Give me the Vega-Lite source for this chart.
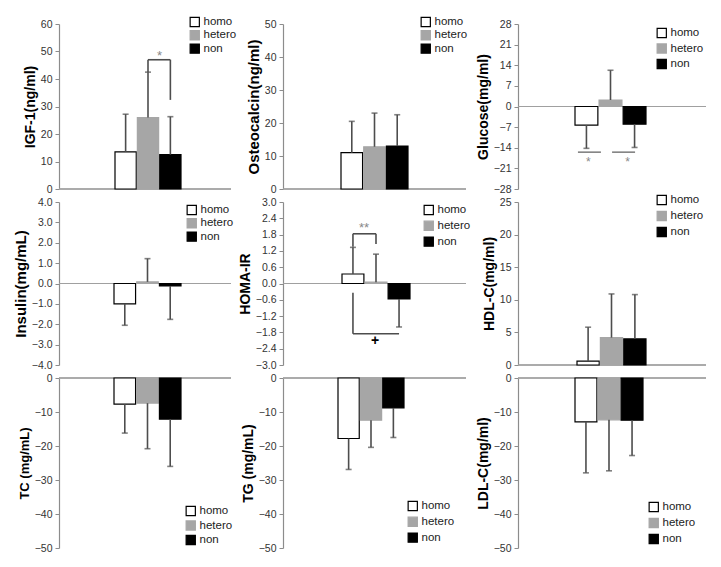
{
"$schema": "https://vega.github.io/schema/vega-lite/v6.json",
"background": "white",
"padding": {"left": 13, "top": 16, "right": 5, "bottom": 5},
"columns": 3,
"spacing": {"row": 13, "column": 52},
"bounds": "flush",
"align": "each",
"resolve": {"scale": {"y": "independent", "x": "independent", "fill": "independent", "stroke": "independent"}, "legend": {"fill": "independent", "stroke": "independent"}},
"config": {
  "font": "Liberation Sans",
  "view": {"stroke": null},
  "axisY": {"grid": false, "domainColor": "#8c8c8c", "domainWidth": 1.2, "tickColor": "#8c8c8c", "tickSize": 4, "labelFontSize": 10.5, "labelColor": "#333333", "labelPadding": 3, "labelFlush": false, "labelOverlap": false, "titleFontWeight": "bold", "titleColor": "#000000", "titlePadding": 3, "titleFontSize": 14},
  "legend": {"symbolType": "square", "symbolSize": 85, "labelFontSize": 11.5, "labelColor": "#222222", "padding": 0, "labelOffset": 3, "symbolStrokeWidth": 1.2, "clipHeight": 12}
},
"concat": [
{"width": 172, "height": 165,
 "data": {"values": [{"group": "homo", "mean": 13.5, "err": 27.2}, {"group": "hetero", "mean": 26, "err": 42.5}, {"group": "non", "mean": 12.5, "err": 26.3}]},
 "layer": [
  {"mark": {"type": "rule", "color": "#a0a0a0", "strokeWidth": 1.2}, "encoding": {"y": {"datum": 0, "type": "quantitative", "axis": {"title": "IGF-1(ng/ml)", "values": [0, 10, 20, 30, 40, 50, 60], "titleFontSize": 14}}}},
  {"mark": {"type": "bar", "strokeWidth": 1.2}, "encoding": {
    "x": {"field": "group", "type": "nominal", "sort": null, "scale": {"domain": ["homo", "hetero", "non"], "paddingInner": 0.05, "paddingOuter": 0, "range": [56, 122]}, "axis": null},
    "y": {"field": "mean", "type": "quantitative", "scale": {"domain": [0, 60], "nice": false}, "axis": {"title": "IGF-1(ng/ml)", "values": [0, 10, 20, 30, 40, 50, 60], "titleFontSize": 14}},
    "y2": {"datum": 0},
    "fill": {"field": "group", "type": "nominal", "sort": null, "scale": {"domain": ["homo", "hetero", "non"], "range": ["#ffffff", "#a6a6a6", "#000000"]}, "legend": {"title": null, "orient": "none", "legendX": 130, "legendY": -8, "rowPadding": 1.3}},
    "stroke": {"field": "group", "type": "nominal", "sort": null, "scale": {"domain": ["homo", "hetero", "non"], "range": ["#000000", "#a6a6a6", "#000000"]}, "legend": {"title": null, "orient": "none", "legendX": 130, "legendY": -8, "rowPadding": 1.3}}}},
  {"mark": {"type": "rule", "color": "#4d4d4d", "strokeWidth": 1.6}, "encoding": {"x": {"field": "group", "type": "nominal"}, "y": {"field": "mean", "type": "quantitative", "axis": {"title": "IGF-1(ng/ml)", "values": [0, 10, 20, 30, 40, 50, 60], "titleFontSize": 14}}, "y2": {"field": "err"}}},
  {"mark": {"type": "tick", "color": "#4d4d4d", "thickness": 1.6, "size": 6, "orient": "horizontal"}, "encoding": {"x": {"field": "group", "type": "nominal"}, "y": {"field": "err", "type": "quantitative", "axis": {"title": "IGF-1(ng/ml)", "values": [0, 10, 20, 30, 40, 50, 60], "titleFontSize": 14}}}},
  {"data": {"values": [{"a": "hetero", "b": "non", "y1": 47, "y2": 47}, {"a": "hetero", "b": "hetero", "y1": 47, "y2": 42.5}, {"a": "non", "b": "non", "y1": 47, "y2": 32.4}]},
   "mark": {"type": "rule", "color": "#4d4d4d", "strokeWidth": 1.6}, "encoding": {"x": {"field": "a", "type": "nominal"}, "x2": {"field": "b"}, "y": {"field": "y1", "type": "quantitative", "axis": {"title": "IGF-1(ng/ml)", "values": [0, 10, 20, 30, 40, 50, 60], "titleFontSize": 14}}, "y2": {"field": "y2"}}},
  {"data": {"values": [{"a": "hetero", "y1": 48.5, "t": "*"}]},
   "mark": {"type": "text", "color": "#888888", "fontSize": 13, "dx": 11.5}, "encoding": {"x": {"field": "a", "type": "nominal"}, "y": {"field": "y1", "type": "quantitative", "axis": {"title": "IGF-1(ng/ml)", "values": [0, 10, 20, 30, 40, 50, 60], "titleFontSize": 14}}, "text": {"field": "t"}}}
 ]},
{"width": 183, "height": 165,
 "data": {"values": [{"group": "homo", "mean": 11, "err": 20.5}, {"group": "hetero", "mean": 12.8, "err": 23}, {"group": "non", "mean": 13, "err": 22.5}]},
 "layer": [
  {"mark": {"type": "rule", "color": "#a0a0a0", "strokeWidth": 1.2}, "encoding": {"y": {"datum": 0, "type": "quantitative", "axis": {"title": "Osteocalcin(ng/ml)", "values": [0, 10, 20, 30, 40, 50], "titleFontSize": 15}}}},
  {"mark": {"type": "bar", "strokeWidth": 1.2}, "encoding": {
    "x": {"field": "group", "type": "nominal", "sort": null, "scale": {"domain": ["homo", "hetero", "non"], "paddingInner": 0.05, "paddingOuter": 0, "range": [58, 125]}, "axis": null},
    "y": {"field": "mean", "type": "quantitative", "scale": {"domain": [0, 50], "nice": false}, "axis": {"title": "Osteocalcin(ng/ml)", "values": [0, 10, 20, 30, 40, 50], "titleFontSize": 15}},
    "y2": {"datum": 0},
    "fill": {"field": "group", "type": "nominal", "sort": null, "scale": {"domain": ["homo", "hetero", "non"], "range": ["#ffffff", "#a6a6a6", "#000000"]}, "legend": {"title": null, "orient": "none", "legendX": 137, "legendY": -8, "rowPadding": 1.3}},
    "stroke": {"field": "group", "type": "nominal", "sort": null, "scale": {"domain": ["homo", "hetero", "non"], "range": ["#000000", "#a6a6a6", "#000000"]}, "legend": {"title": null, "orient": "none", "legendX": 137, "legendY": -8, "rowPadding": 1.3}}}},
  {"mark": {"type": "rule", "color": "#4d4d4d", "strokeWidth": 1.6}, "encoding": {"x": {"field": "group", "type": "nominal"}, "y": {"field": "mean", "type": "quantitative", "axis": {"title": "Osteocalcin(ng/ml)", "values": [0, 10, 20, 30, 40, 50], "titleFontSize": 15}}, "y2": {"field": "err"}}},
  {"mark": {"type": "tick", "color": "#4d4d4d", "thickness": 1.6, "size": 6, "orient": "horizontal"}, "encoding": {"x": {"field": "group", "type": "nominal"}, "y": {"field": "err", "type": "quantitative", "axis": {"title": "Osteocalcin(ng/ml)", "values": [0, 10, 20, 30, 40, 50], "titleFontSize": 15}}}}
 ]},
{"width": 188, "height": 165,
 "data": {"values": [{"group": "homo", "mean": -6.3, "err": -14.2}, {"group": "hetero", "mean": 2.2, "err": 12.3}, {"group": "non", "mean": -6, "err": -13.9}]},
 "layer": [
  {"mark": {"type": "rule", "color": "#a0a0a0", "strokeWidth": 1.2}, "encoding": {"y": {"datum": 0, "type": "quantitative", "axis": {"title": "Glucose(mg/ml)", "values": [-28, -21, -14, -7, 0, 7, 14, 21, 28], "titleFontSize": 14}}}},
  {"mark": {"type": "bar", "strokeWidth": 1.2}, "encoding": {
    "x": {"field": "group", "type": "nominal", "sort": null, "scale": {"domain": ["homo", "hetero", "non"], "paddingInner": 0.05, "paddingOuter": 0, "range": [57, 128]}, "axis": null},
    "y": {"field": "mean", "type": "quantitative", "scale": {"domain": [-28, 28], "nice": false}, "axis": {"title": "Glucose(mg/ml)", "values": [-28, -21, -14, -7, 0, 7, 14, 21, 28], "titleFontSize": 14}},
    "y2": {"datum": 0},
    "fill": {"field": "group", "type": "nominal", "sort": null, "scale": {"domain": ["homo", "hetero", "non"], "range": ["#ffffff", "#a6a6a6", "#000000"]}, "legend": {"title": null, "orient": "none", "legendX": 138, "legendY": 3, "rowPadding": 3.5}},
    "stroke": {"field": "group", "type": "nominal", "sort": null, "scale": {"domain": ["homo", "hetero", "non"], "range": ["#000000", "#a6a6a6", "#000000"]}, "legend": {"title": null, "orient": "none", "legendX": 138, "legendY": 3, "rowPadding": 3.5}}}},
  {"mark": {"type": "rule", "color": "#4d4d4d", "strokeWidth": 1.6}, "encoding": {"x": {"field": "group", "type": "nominal"}, "y": {"field": "mean", "type": "quantitative", "axis": {"title": "Glucose(mg/ml)", "values": [-28, -21, -14, -7, 0, 7, 14, 21, 28], "titleFontSize": 14}}, "y2": {"field": "err"}}},
  {"mark": {"type": "tick", "color": "#4d4d4d", "thickness": 1.6, "size": 6, "orient": "horizontal"}, "encoding": {"x": {"field": "group", "type": "nominal"}, "y": {"field": "err", "type": "quantitative", "axis": {"title": "Glucose(mg/ml)", "values": [-28, -21, -14, -7, 0, 7, 14, 21, 28], "titleFontSize": 14}}}},
  {"data": {"values": [{"a": "homo", "y1": -15.5}]},
   "mark": {"type": "tick", "color": "#4d4d4d", "thickness": 1.6, "size": 23, "orient": "horizontal", "xOffset": 3}, "encoding": {"x": {"field": "a", "type": "nominal"}, "y": {"field": "y1", "type": "quantitative", "axis": {"title": "Glucose(mg/ml)", "values": [-28, -21, -14, -7, 0, 7, 14, 21, 28], "titleFontSize": 14}}}},
  {"data": {"values": [{"a": "non", "y1": -15.5}]},
   "mark": {"type": "tick", "color": "#4d4d4d", "thickness": 1.6, "size": 23, "orient": "horizontal", "xOffset": -11}, "encoding": {"x": {"field": "a", "type": "nominal"}, "y": {"field": "y1", "type": "quantitative", "axis": {"title": "Glucose(mg/ml)", "values": [-28, -21, -14, -7, 0, 7, 14, 21, 28], "titleFontSize": 14}}}},
  {"data": {"values": [{"a": "homo", "y1": -19, "t": "*"}]},
   "mark": {"type": "text", "color": "#888888", "fontSize": 12, "dx": 2}, "encoding": {"x": {"field": "a", "type": "nominal"}, "y": {"field": "y1", "type": "quantitative", "axis": {"title": "Glucose(mg/ml)", "values": [-28, -21, -14, -7, 0, 7, 14, 21, 28], "titleFontSize": 14}}, "text": {"field": "t"}}},
  {"data": {"values": [{"a": "non", "y1": -19, "t": "*"}]},
   "mark": {"type": "text", "color": "#888888", "fontSize": 12, "dx": -7}, "encoding": {"x": {"field": "a", "type": "nominal"}, "y": {"field": "y1", "type": "quantitative", "axis": {"title": "Glucose(mg/ml)", "values": [-28, -21, -14, -7, 0, 7, 14, 21, 28], "titleFontSize": 14}}, "text": {"field": "t"}}}
 ]},
{"width": 172, "height": 163,
 "data": {"values": [{"group": "homo", "mean": -1.0, "err": -2.05}, {"group": "hetero", "mean": 0.08, "err": 1.22}, {"group": "non", "mean": -0.12, "err": -1.76}]},
 "layer": [
  {"mark": {"type": "rule", "color": "#a0a0a0", "strokeWidth": 1.2}, "encoding": {"y": {"datum": 0, "type": "quantitative", "axis": {"title": "Insulin(mg/mL)", "values": [-4, -3, -2, -1, 0, 1, 2, 3, 4], "format": ".1f", "titleFontSize": 15}}}},
  {"mark": {"type": "bar", "strokeWidth": 1.2}, "encoding": {
    "x": {"field": "group", "type": "nominal", "sort": null, "scale": {"domain": ["homo", "hetero", "non"], "paddingInner": 0.05, "paddingOuter": 0, "range": [55, 122]}, "axis": null},
    "y": {"field": "mean", "type": "quantitative", "scale": {"domain": [-4, 4], "nice": false}, "axis": {"title": "Insulin(mg/mL)", "values": [-4, -3, -2, -1, 0, 1, 2, 3, 4], "format": ".1f", "titleFontSize": 15}},
    "y2": {"datum": 0},
    "fill": {"field": "group", "type": "nominal", "sort": null, "scale": {"domain": ["homo", "hetero", "non"], "range": ["#ffffff", "#a6a6a6", "#000000"]}, "legend": {"title": null, "orient": "none", "legendX": 127, "legendY": 2, "rowPadding": 1.3}},
    "stroke": {"field": "group", "type": "nominal", "sort": null, "scale": {"domain": ["homo", "hetero", "non"], "range": ["#000000", "#a6a6a6", "#000000"]}, "legend": {"title": null, "orient": "none", "legendX": 127, "legendY": 2, "rowPadding": 1.3}}}},
  {"mark": {"type": "rule", "color": "#4d4d4d", "strokeWidth": 1.6}, "encoding": {"x": {"field": "group", "type": "nominal"}, "y": {"field": "mean", "type": "quantitative", "axis": {"title": "Insulin(mg/mL)", "values": [-4, -3, -2, -1, 0, 1, 2, 3, 4], "format": ".1f", "titleFontSize": 15}}, "y2": {"field": "err"}}},
  {"mark": {"type": "tick", "color": "#4d4d4d", "thickness": 1.6, "size": 6, "orient": "horizontal"}, "encoding": {"x": {"field": "group", "type": "nominal"}, "y": {"field": "err", "type": "quantitative", "axis": {"title": "Insulin(mg/mL)", "values": [-4, -3, -2, -1, 0, 1, 2, 3, 4], "format": ".1f", "titleFontSize": 15}}}}
 ]},
{"width": 183, "height": 163,
 "data": {"values": [{"group": "homo", "mean": 0.35, "err": 1.33}, {"group": "hetero", "mean": 0.05, "err": 1.08}, {"group": "non", "mean": -0.57, "err": -1.6}]},
 "layer": [
  {"mark": {"type": "rule", "color": "#a0a0a0", "strokeWidth": 1.2}, "encoding": {"y": {"datum": 0, "type": "quantitative", "axis": {"title": "HOMA-IR", "values": [-3, -2.4, -1.8, -1.2, -0.6, 0, 0.6, 1.2, 1.8, 2.4, 3], "format": ".1f", "titleFontSize": 14}}}},
  {"mark": {"type": "bar", "strokeWidth": 1.2}, "encoding": {
    "x": {"field": "group", "type": "nominal", "sort": null, "scale": {"domain": ["homo", "hetero", "non"], "paddingInner": 0.05, "paddingOuter": 0, "range": [59, 127]}, "axis": null},
    "y": {"field": "mean", "type": "quantitative", "scale": {"domain": [-3, 3], "nice": false}, "axis": {"title": "HOMA-IR", "values": [-3, -2.4, -1.8, -1.2, -0.6, 0, 0.6, 1.2, 1.8, 2.4, 3], "format": ".1f", "titleFontSize": 14}},
    "y2": {"datum": 0},
    "fill": {"field": "group", "type": "nominal", "sort": null, "scale": {"domain": ["homo", "hetero", "non"], "range": ["#ffffff", "#a6a6a6", "#000000"]}, "legend": {"title": null, "orient": "none", "legendX": 140, "legendY": 2, "rowPadding": 3.8}},
    "stroke": {"field": "group", "type": "nominal", "sort": null, "scale": {"domain": ["homo", "hetero", "non"], "range": ["#000000", "#a6a6a6", "#000000"]}, "legend": {"title": null, "orient": "none", "legendX": 140, "legendY": 2, "rowPadding": 3.8}}}},
  {"mark": {"type": "rule", "color": "#4d4d4d", "strokeWidth": 1.6}, "encoding": {"x": {"field": "group", "type": "nominal"}, "y": {"field": "mean", "type": "quantitative", "axis": {"title": "HOMA-IR", "values": [-3, -2.4, -1.8, -1.2, -0.6, 0, 0.6, 1.2, 1.8, 2.4, 3], "format": ".1f", "titleFontSize": 14}}, "y2": {"field": "err"}}},
  {"mark": {"type": "tick", "color": "#4d4d4d", "thickness": 1.6, "size": 6, "orient": "horizontal"}, "encoding": {"x": {"field": "group", "type": "nominal"}, "y": {"field": "err", "type": "quantitative", "axis": {"title": "HOMA-IR", "values": [-3, -2.4, -1.8, -1.2, -0.6, 0, 0.6, 1.2, 1.8, 2.4, 3], "format": ".1f", "titleFontSize": 14}}}},
  {"data": {"values": [{"a": "homo", "b": "hetero", "y1": 1.83, "y2": 1.83}, {"a": "homo", "b": "homo", "y1": 1.83, "y2": 1.35}, {"a": "hetero", "b": "hetero", "y1": 1.83, "y2": 1.45}, {"a": "homo", "b": "homo", "y1": -0.34, "y2": -1.85}, {"a": "homo", "b": "non", "y1": -1.85, "y2": -1.85}]},
   "mark": {"type": "rule", "color": "#4d4d4d", "strokeWidth": 1.6}, "encoding": {"x": {"field": "a", "type": "nominal"}, "x2": {"field": "b"}, "y": {"field": "y1", "type": "quantitative", "axis": {"title": "HOMA-IR", "values": [-3, -2.4, -1.8, -1.2, -0.6, 0, 0.6, 1.2, 1.8, 2.4, 3], "format": ".1f", "titleFontSize": 14}}, "y2": {"field": "y2"}}},
  {"data": {"values": [{"a": "homo", "y1": 2.05, "t": "**"}]},
   "mark": {"type": "text", "color": "#888888", "fontSize": 13, "dx": 11}, "encoding": {"x": {"field": "a", "type": "nominal"}, "y": {"field": "y1", "type": "quantitative", "axis": {"title": "HOMA-IR", "values": [-3, -2.4, -1.8, -1.2, -0.6, 0, 0.6, 1.2, 1.8, 2.4, 3], "format": ".1f", "titleFontSize": 14}}, "text": {"field": "t"}}},
  {"data": {"values": [{"a": "hetero", "y1": -2.1, "t": "+"}]},
   "mark": {"type": "text", "color": "#000000", "fontSize": 14, "fontWeight": "bold", "dx": -1}, "encoding": {"x": {"field": "a", "type": "nominal"}, "y": {"field": "y1", "type": "quantitative", "axis": {"title": "HOMA-IR", "values": [-3, -2.4, -1.8, -1.2, -0.6, 0, 0.6, 1.2, 1.8, 2.4, 3], "format": ".1f", "titleFontSize": 14}}, "text": {"field": "t"}}}
 ]},
{"width": 188, "height": 163,
 "data": {"values": [{"group": "homo", "mean": 0.6, "err": 5.8}, {"group": "hetero", "mean": 4.2, "err": 10.9}, {"group": "non", "mean": 4.0, "err": 10.8}]},
 "layer": [
  {"mark": {"type": "rule", "color": "#a0a0a0", "strokeWidth": 1.2}, "encoding": {"y": {"datum": 0, "type": "quantitative", "axis": {"title": "HDL-C(mg/ml)", "values": [0, 5, 10, 15, 20, 25], "titleFontSize": 14}}}},
  {"mark": {"type": "bar", "strokeWidth": 1.2}, "encoding": {
    "x": {"field": "group", "type": "nominal", "sort": null, "scale": {"domain": ["homo", "hetero", "non"], "paddingInner": 0.05, "paddingOuter": 0, "range": [59, 128]}, "axis": null},
    "y": {"field": "mean", "type": "quantitative", "scale": {"domain": [0, 25], "nice": false}, "axis": {"title": "HDL-C(mg/ml)", "values": [0, 5, 10, 15, 20, 25], "titleFontSize": 14}},
    "y2": {"datum": 0},
    "fill": {"field": "group", "type": "nominal", "sort": null, "scale": {"domain": ["homo", "hetero", "non"], "range": ["#ffffff", "#a6a6a6", "#000000"]}, "legend": {"title": null, "orient": "none", "legendX": 138, "legendY": -8, "rowPadding": 4}},
    "stroke": {"field": "group", "type": "nominal", "sort": null, "scale": {"domain": ["homo", "hetero", "non"], "range": ["#000000", "#a6a6a6", "#000000"]}, "legend": {"title": null, "orient": "none", "legendX": 138, "legendY": -8, "rowPadding": 4}}}},
  {"mark": {"type": "rule", "color": "#4d4d4d", "strokeWidth": 1.6}, "encoding": {"x": {"field": "group", "type": "nominal"}, "y": {"field": "mean", "type": "quantitative", "axis": {"title": "HDL-C(mg/ml)", "values": [0, 5, 10, 15, 20, 25], "titleFontSize": 14}}, "y2": {"field": "err"}}},
  {"mark": {"type": "tick", "color": "#4d4d4d", "thickness": 1.6, "size": 6, "orient": "horizontal"}, "encoding": {"x": {"field": "group", "type": "nominal"}, "y": {"field": "err", "type": "quantitative", "axis": {"title": "HDL-C(mg/ml)", "values": [0, 5, 10, 15, 20, 25], "titleFontSize": 14}}}}
 ]},
{"width": 172, "height": 170,
 "data": {"values": [{"group": "homo", "mean": -7.7, "err": -16.2}, {"group": "hetero", "mean": -7.4, "err": -20.8}, {"group": "non", "mean": -12.1, "err": -26}]},
 "layer": [
  {"mark": {"type": "rule", "color": "#a0a0a0", "strokeWidth": 1.2}, "encoding": {"y": {"datum": 0, "type": "quantitative", "axis": {"title": "TC  (mg/mL)", "values": [-50, -40, -30, -20, -10, 0], "titleFontSize": 13}}}},
  {"mark": {"type": "bar", "strokeWidth": 1.2}, "encoding": {
    "x": {"field": "group", "type": "nominal", "sort": null, "scale": {"domain": ["homo", "hetero", "non"], "paddingInner": 0.05, "paddingOuter": 0, "range": [55, 122]}, "axis": null},
    "y": {"field": "mean", "type": "quantitative", "scale": {"domain": [-50, 0], "nice": false}, "axis": {"title": "TC  (mg/mL)", "values": [-50, -40, -30, -20, -10, 0], "titleFontSize": 13}},
    "y2": {"datum": 0},
    "fill": {"field": "group", "type": "nominal", "sort": null, "scale": {"domain": ["homo", "hetero", "non"], "range": ["#ffffff", "#a6a6a6", "#000000"]}, "legend": {"title": null, "orient": "none", "legendX": 126, "legendY": 127, "rowPadding": 2.5}},
    "stroke": {"field": "group", "type": "nominal", "sort": null, "scale": {"domain": ["homo", "hetero", "non"], "range": ["#000000", "#a6a6a6", "#000000"]}, "legend": {"title": null, "orient": "none", "legendX": 126, "legendY": 127, "rowPadding": 2.5}}}},
  {"mark": {"type": "rule", "color": "#4d4d4d", "strokeWidth": 1.6}, "encoding": {"x": {"field": "group", "type": "nominal"}, "y": {"field": "mean", "type": "quantitative", "axis": {"title": "TC  (mg/mL)", "values": [-50, -40, -30, -20, -10, 0], "titleFontSize": 13}}, "y2": {"field": "err"}}},
  {"mark": {"type": "tick", "color": "#4d4d4d", "thickness": 1.6, "size": 6, "orient": "horizontal"}, "encoding": {"x": {"field": "group", "type": "nominal"}, "y": {"field": "err", "type": "quantitative", "axis": {"title": "TC  (mg/mL)", "values": [-50, -40, -30, -20, -10, 0], "titleFontSize": 13}}}}
 ]},
{"width": 183, "height": 170,
 "data": {"values": [{"group": "homo", "mean": -17.8, "err": -26.9}, {"group": "hetero", "mean": -12.4, "err": -20.4}, {"group": "non", "mean": -8.8, "err": -17.5}]},
 "layer": [
  {"mark": {"type": "rule", "color": "#a0a0a0", "strokeWidth": 1.2}, "encoding": {"y": {"datum": 0, "type": "quantitative", "axis": {"title": "TG (mg/mL)", "values": [-50, -40, -30, -20, -10, 0], "titleFontSize": 14}}}},
  {"mark": {"type": "bar", "strokeWidth": 1.2}, "encoding": {
    "x": {"field": "group", "type": "nominal", "sort": null, "scale": {"domain": ["homo", "hetero", "non"], "paddingInner": 0.05, "paddingOuter": 0, "range": [55, 121]}, "axis": null},
    "y": {"field": "mean", "type": "quantitative", "scale": {"domain": [-50, 0], "nice": false}, "axis": {"title": "TG (mg/mL)", "values": [-50, -40, -30, -20, -10, 0], "titleFontSize": 14}},
    "y2": {"datum": 0},
    "fill": {"field": "group", "type": "nominal", "sort": null, "scale": {"domain": ["homo", "hetero", "non"], "range": ["#ffffff", "#a6a6a6", "#000000"]}, "legend": {"title": null, "orient": "none", "legendX": 124, "legendY": 122, "rowPadding": 3.8}},
    "stroke": {"field": "group", "type": "nominal", "sort": null, "scale": {"domain": ["homo", "hetero", "non"], "range": ["#000000", "#a6a6a6", "#000000"]}, "legend": {"title": null, "orient": "none", "legendX": 124, "legendY": 122, "rowPadding": 3.8}}}},
  {"mark": {"type": "rule", "color": "#4d4d4d", "strokeWidth": 1.6}, "encoding": {"x": {"field": "group", "type": "nominal"}, "y": {"field": "mean", "type": "quantitative", "axis": {"title": "TG (mg/mL)", "values": [-50, -40, -30, -20, -10, 0], "titleFontSize": 14}}, "y2": {"field": "err"}}},
  {"mark": {"type": "tick", "color": "#4d4d4d", "thickness": 1.6, "size": 6, "orient": "horizontal"}, "encoding": {"x": {"field": "group", "type": "nominal"}, "y": {"field": "err", "type": "quantitative", "axis": {"title": "TG (mg/mL)", "values": [-50, -40, -30, -20, -10, 0], "titleFontSize": 14}}}}
 ]},
{"width": 188, "height": 170,
 "data": {"values": [{"group": "homo", "mean": -12.9, "err": -27.9}, {"group": "hetero", "mean": -12.3, "err": -27.3}, {"group": "non", "mean": -12.4, "err": -22.8}]},
 "layer": [
  {"mark": {"type": "rule", "color": "#a0a0a0", "strokeWidth": 1.2}, "encoding": {"y": {"datum": 0, "type": "quantitative", "axis": {"title": "LDL-C(mg/ml)", "values": [-50, -40, -30, -20, -10, 0], "titleFontSize": 14}}}},
  {"mark": {"type": "bar", "strokeWidth": 1.2}, "encoding": {
    "x": {"field": "group", "type": "nominal", "sort": null, "scale": {"domain": ["homo", "hetero", "non"], "paddingInner": 0.05, "paddingOuter": 0, "range": [57, 125]}, "axis": null},
    "y": {"field": "mean", "type": "quantitative", "scale": {"domain": [-50, 0], "nice": false}, "axis": {"title": "LDL-C(mg/ml)", "values": [-50, -40, -30, -20, -10, 0], "titleFontSize": 14}},
    "y2": {"datum": 0},
    "fill": {"field": "group", "type": "nominal", "sort": null, "scale": {"domain": ["homo", "hetero", "non"], "range": ["#ffffff", "#a6a6a6", "#000000"]}, "legend": {"title": null, "orient": "none", "legendX": 130, "legendY": 123, "rowPadding": 4}},
    "stroke": {"field": "group", "type": "nominal", "sort": null, "scale": {"domain": ["homo", "hetero", "non"], "range": ["#000000", "#a6a6a6", "#000000"]}, "legend": {"title": null, "orient": "none", "legendX": 130, "legendY": 123, "rowPadding": 4}}}},
  {"mark": {"type": "rule", "color": "#4d4d4d", "strokeWidth": 1.6}, "encoding": {"x": {"field": "group", "type": "nominal"}, "y": {"field": "mean", "type": "quantitative", "axis": {"title": "LDL-C(mg/ml)", "values": [-50, -40, -30, -20, -10, 0], "titleFontSize": 14}}, "y2": {"field": "err"}}},
  {"mark": {"type": "tick", "color": "#4d4d4d", "thickness": 1.6, "size": 6, "orient": "horizontal"}, "encoding": {"x": {"field": "group", "type": "nominal"}, "y": {"field": "err", "type": "quantitative", "axis": {"title": "LDL-C(mg/ml)", "values": [-50, -40, -30, -20, -10, 0], "titleFontSize": 14}}}}
 ]}
]
}
